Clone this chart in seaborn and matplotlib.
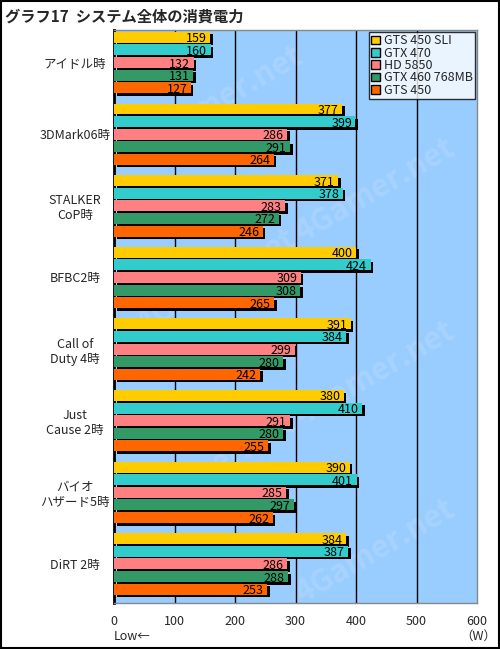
import numpy as np
import pandas as pd
import matplotlib
matplotlib.use('Agg')
import matplotlib.pyplot as plt
from matplotlib.patches import Rectangle
from matplotlib.transforms import ScaledTranslation
import seaborn as sns

# Chart data
scenes = ['アイドル時', '3DMark06時', 'STALKER\nCoP時', 'BFBC2時',
          'Call of\nDuty 4時', 'Just\nCause 2時', 'バイオ\nハザード5時', 'DiRT 2時']
cards = ['GTS 450 SLI', 'GTX 470', 'HD 5850', 'GTX 460 768MB', 'GTS 450']
gts450sli = [159, 377, 371, 400, 391, 380, 390, 384]
gtx470 = [160, 399, 378, 424, 384, 410, 401, 387]
hd5850 = [132, 286, 283, 309, 299, 291, 285, 286]
gtx460 = [131, 291, 272, 308, 280, 280, 297, 288]
gts450 = [127, 264, 246, 265, 242, 255, 262, 253]
colors = ['#FFCC00', '#33CCCC', '#FF8080', '#339966', '#FF6600']

rows = []
for card, vals in zip(cards, [gts450sli, gtx470, hd5850, gtx460, gts450]):
    for scene, v in zip(scenes, vals):
        rows.append({'scene': scene, 'card': card, 'watt': v})
df = pd.DataFrame(rows)

sns.set_style('white')
plt.rcParams['font.family'] = ['Noto Sans CJK JP', 'DejaVu Sans']

fig = plt.figure(figsize=(5, 6.49), dpi=100)
ax = fig.add_axes([0.228, 0.0709, 0.726, 0.8829])
ax.set_facecolor('#99CCFF')

sns.barplot(data=df, y='scene', x='watt', hue='card', order=scenes, hue_order=cards,
            palette=colors, orient='h', width=0.88, gap=0.13, linewidth=0,
            saturation=1, ax=ax, legend=False, zorder=3)

# black drop shadows + value labels
shift = ax.transData + ScaledTranslation(2.5 / 100, -2.5 / 100, fig.dpi_scale_trans)
bars = list(ax.patches)
for p in bars:
    x0, y0 = p.get_x(), p.get_y()
    w, h = p.get_width(), p.get_height()
    ax.add_patch(Rectangle((x0, y0), w, h, transform=shift, facecolor='black',
                           edgecolor='none', zorder=2))
    ax.annotate(f'{int(w)}', (x0 + w, y0 + h / 2), xytext=(-2.5, 0),
                textcoords='offset points', ha='right', va='center_baseline',
                fontsize=9, color='black', zorder=4)

# faint watermark
for wx, wy in [(0.3, 0.88), (0.72, 0.72), (0.28, 0.56), (0.72, 0.4),
               (0.28, 0.24), (0.72, 0.09)]:
    ax.text(wx, wy, '4Gamer.net', transform=ax.transAxes, fontsize=22, fontweight='bold',
            color='#A8D3FF', rotation=30, ha='center', va='center', zorder=1)

ax.set_xlim(0, 600)
ax.set_ylim(7.545, -0.455)
ax.set_xticks([0, 100, 200, 300, 400, 500, 600])
ax.set_xticklabels(['0', '100', '200', '300', '400', '500', '600'], fontsize=9)
for x in [100, 200, 300, 400, 500]:
    ax.axvline(x, color='black', linewidth=1, zorder=1.5)
ax.set_yticks(np.arange(len(scenes)))
ax.set_yticklabels(scenes, fontsize=9, ha='center', multialignment='center')
ax.tick_params(axis='y', length=0, pad=28)
ax.tick_params(axis='x', length=0, pad=9)
ax.set_yticks(np.arange(len(scenes)) + 0.5, minor=True)
ax.tick_params(axis='y', which='minor', length=3, width=1, direction='in', color='black')
ax.set_xlabel('')
ax.set_ylabel('')

for side in ['top', 'right', 'bottom']:
    ax.spines[side].set_color('#888888')
    ax.spines[side].set_linewidth(1)
ax.spines['left'].set_color('black')
ax.spines['left'].set_linewidth(2)

# legend
handles = [Rectangle((0, 0), 1, 1, facecolor=c, edgecolor='black', linewidth=1) for c in colors]
leg = ax.legend(handles, cards, loc='upper right', fontsize=9, frameon=True, fancybox=False,
                handlelength=0.7, handleheight=0.7, handletextpad=0.3, borderpad=0.2,
                labelspacing=-0.05, borderaxespad=0.15)
leg.get_frame().set_edgecolor('black')
leg.get_frame().set_linewidth(1)
leg.get_frame().set_facecolor('white')
leg.set_zorder(5)

fig.text(0.01, 0.975, 'グラフ17  システム全体の消費電力', fontsize=11, fontweight='bold', va='center')
fig.text(0.228, 0.02, 'Low←', fontsize=9, va='center')
fig.text(0.956, 0.02, '（W）', fontsize=9, va='center', ha='center')

# outer border
fig.patches.append(Rectangle((0.002, 0.002), 0.996, 0.996, transform=fig.transFigure,
                             fill=False, edgecolor='black', linewidth=1.5))

fig.savefig('out.png', dpi=100)
